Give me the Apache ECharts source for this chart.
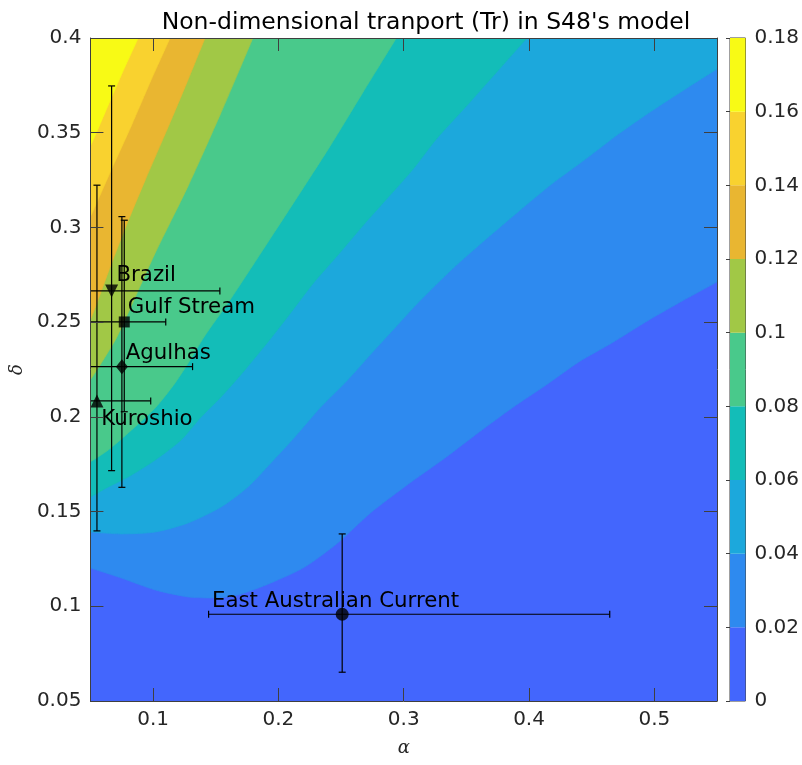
<!DOCTYPE html>
<html>
<head>
<meta charset="utf-8">
<script src="https://cdn.jsdelivr.net/npm/echarts@6/dist/echarts.min.js"></script>
<style>html,body{margin:0;padding:0;background:#fff}#c{width:802px;height:765px}</style>
</head>
<body>
<div id="c"></div>
<script>
// ---- data ----
const xTicks = [0.1, 0.2, 0.3, 0.4, 0.5];
const cbLevels = [0, 0.02, 0.04, 0.06, 0.08, 0.1, 0.12, 0.14, 0.16, 0.18];
const bandColors = ['#4366fd','#2e8aef','#1ca8dc','#13bdb8','#49c98b','#a1c846','#e9b631','#f9d22f','#f8fa15'];

// contour lines (alpha, delta), from left edge to right/top edge
const c00 = [[0.05,0.05],[0.55,0.05]];
const c02 = [[0.05,0.1202],[0.0747,0.1149],[0.1017,0.1086],[0.128,0.1049],[0.1463,0.1044],[0.1677,0.106],[0.194,0.1123],[0.221,0.1207],[0.2473,0.1334],[0.2735,0.1493],[0.3006,0.163],[0.334,0.1788],[0.3603,0.192],[0.3865,0.2047],[0.4136,0.2168],[0.4398,0.229],[0.4661,0.239],[0.4931,0.2501],[0.5194,0.2601],[0.55,0.2712]];
const c04 = [[0.05,0.1392],[0.0747,0.1382],[0.1017,0.1392],[0.128,0.144],[0.1542,0.1524],[0.1757,0.163],[0.194,0.1757],[0.2131,0.1894],[0.2338,0.2052],[0.2553,0.2195],[0.2767,0.2353],[0.2966,0.2496],[0.3125,0.261],[0.3388,0.2781],[0.3658,0.2939],[0.3921,0.3087],[0.4183,0.323],[0.4454,0.3362],[0.4716,0.3494],[0.4979,0.3615],[0.5249,0.3731],[0.55,0.3837]];
const c06 = [[0.05,0.1577],[0.0643,0.163],[0.0802,0.1683],[0.1017,0.1772],[0.1224,0.1878],[0.1383,0.1999],[0.1542,0.2105],[0.1733,0.2248],[0.1916,0.2395],[0.2091,0.2543],[0.2274,0.2702],[0.2489,0.2865],[0.2672,0.3008],[0.2807,0.3108],[0.307,0.3304],[0.3261,0.3467],[0.3523,0.3657],[0.3786,0.3853],[0.3984,0.4]];
const c08 = [[0.05,0.1762],[0.0643,0.1825],[0.0802,0.1915],[0.1017,0.2047],[0.1176,0.2179],[0.1296,0.23],[0.1407,0.2422],[0.1614,0.2617],[0.1876,0.2881],[0.2147,0.3156],[0.2409,0.3425],[0.2672,0.371],[0.2942,0.4]];
const c10 = [[0.05,0.2195],[0.0588,0.2285],[0.0699,0.2406],[0.0739,0.2459],[0.0802,0.2549],[0.1017,0.2865],[0.128,0.3219],[0.1542,0.3605],[0.1797,0.4]];
const c12 = [[0.05,0.2512],[0.054,0.258],[0.0643,0.2765],[0.0778,0.2997],[0.0938,0.3251],[0.1121,0.3531],[0.1272,0.3768],[0.1415,0.4]];
const c14 = [[0.05,0.3055],[0.054,0.3114],[0.0667,0.3304],[0.0826,0.3536],[0.0985,0.3779],[0.1136,0.4]];
const c16 = [[0.05,0.343],[0.054,0.3488],[0.0619,0.361],[0.0747,0.3805],[0.0882,0.4]];
const contours = [c00, c02, c04, c06, c08, c10, c12, c14, c16];

// currents
const names   = ['Brazil','Gulf Stream','Agulhas','Kuroshio','East Australian Current'];
const alpha   = [0.0669, 0.0770, 0.0751, 0.0552, 0.2509];
const delta   = [0.2665, 0.2501, 0.2265, 0.2084, 0.0958];
const alphaLo = [-0.0195, 0.0439, 0.0187, 0.0123, 0.1443];
const alphaHi = [0.1533, 0.1101, 0.1315, 0.0981, 0.4644];
const deltaLo = [0.1716, 0.2027, 0.1628, 0.1398, 0.0652];
const deltaHi = [0.3747, 0.3038, 0.3057, 0.3223, 0.1382];
const symbols = ['triangle','rect','diamond','triangle','circle'];
const symRot  = [180, 0, 0, 0, 0];
const labelAlpha = [0.0708, 0.0798, 0.0782, 0.0587, 0.147];
const labelDelta = [0.2749, 0.2575, 0.2337, 0.1984, 0.1028];

// ---- build ----
const xMin = 0.05, xMax = 0.55, yMin = 0.05, yMax = 0.4;
const axisCol = '#3f3f3f', txtCol = '#262626';
const FONT = 'DejaVu Sans';

const bandSeries = contours.map((c, i) => ({
  type: 'line', xAxisIndex: 0, yAxisIndex: 0, z: 1 + i * 0.01,
  data: c, smooth: 0.25,
  showSymbol: false, symbol: 'none', silent: true,
  lineStyle: {width: 0.6, color: bandColors[i]},
  areaStyle: {origin: 'end', color: bandColors[i], opacity: 1}
}));

const chart = echarts.init(document.getElementById('c'), null, {renderer: 'canvas'});
chart.setOption({
  animation: false,
  backgroundColor: '#fff',
  title: {
    text: "Non-dimensional tranport (Tr) in S48's model",
    left: 421, top: 6, textAlign: 'center',
    textStyle: {fontFamily: FONT, fontSize: 23.5, fontWeight: 'normal', color: '#000'}
  },
  grid: [
    {left: 90, right: 85, top: 38, bottom: 64, show: false},
    {left: 730, right: 55, top: 38, bottom: 64, show: true, borderColor: axisCol, borderWidth: 1}
  ],
  xAxis: [
    {gridIndex: 0, type: 'value', min: xMin, max: xMax, position: 'bottom',
     name: 'α', nameLocation: 'middle', nameGap: 38,
     nameTextStyle: {fontFamily: 'DejaVu Serif', fontStyle: 'italic', fontSize: 18, color: txtCol},
     axisLine: {show: true, onZero: false, lineStyle: {color: axisCol}},
     axisTick: {show: true, inside: true, length: 13, customValues: xTicks, lineStyle: {color: axisCol}},
     axisLabel: {customValues: xTicks, fontFamily: FONT, fontSize: 20, color: txtCol, margin: 9},
     splitLine: {show: false}, z: 10},
    {gridIndex: 0, type: 'value', min: xMin, max: xMax, position: 'top',
     axisLine: {show: true, onZero: false, lineStyle: {color: axisCol}},
     axisTick: {show: true, inside: true, length: 13, customValues: xTicks, lineStyle: {color: axisCol}},
     axisLabel: {show: false}, splitLine: {show: false}, z: 10},
    {gridIndex: 1, type: 'value', min: 0, max: 1, show: false}
  ],
  yAxis: [
    {gridIndex: 0, type: 'value', min: yMin, max: yMax, interval: 0.05, position: 'left',
     name: 'δ', nameLocation: 'middle', nameGap: 55, nameRotate: 90,
     nameTextStyle: {fontFamily: 'DejaVu Serif', fontStyle: 'italic', fontSize: 18, color: txtCol},
     axisLine: {show: true, onZero: false, lineStyle: {color: axisCol}},
     axisTick: {show: true, inside: true, length: 13, lineStyle: {color: axisCol}},
     axisLabel: {fontFamily: FONT, fontSize: 20, color: txtCol, margin: 9},
     splitLine: {show: false}, z: 10},
    {gridIndex: 0, type: 'value', min: yMin, max: yMax, interval: 0.05, position: 'right',
     axisLine: {show: true, onZero: false, lineStyle: {color: axisCol}},
     axisTick: {show: true, inside: true, length: 13, lineStyle: {color: axisCol}},
     axisLabel: {show: false}, splitLine: {show: false}, z: 10},
    {gridIndex: 1, type: 'value', min: 0, max: 0.18, interval: 0.02, position: 'right',
     axisLine: {show: false},
     axisTick: {show: true, inside: true, length: 4, lineStyle: {color: axisCol}},
     axisLabel: {fontFamily: FONT, fontSize: 20, color: txtCol, margin: 9},
     splitLine: {show: false}}
  ],
  series: bandSeries.concat([
    {
      type: 'custom', xAxisIndex: 2, yAxisIndex: 2, z: 1,
      data: cbLevels.slice(0, -1).map(v => [0, v]),
      renderItem: function (params, api) {
        const i = params.dataIndex;
        const p1 = api.coord([0, cbLevels[i]]);
        const p2 = api.coord([1, cbLevels[i + 1]]);
        return {type: 'rect', shape: {x: p1[0], y: p2[1], width: p2[0] - p1[0], height: p1[1] - p2[1]},
                style: {fill: bandColors[i]}};
      }
    },
    {
      type: 'custom', xAxisIndex: 0, yAxisIndex: 0, z: 5,
      data: names.map((n, i) => [alpha[i], delta[i]]),
      renderItem: function (params, api) {
        const i = params.dataIndex;
        const cap = 3.5;
        const st = {stroke: '#000', lineWidth: 1.2};
        const ch = [];
        const lo = Math.max(alphaLo[i], xMin), hi = Math.min(alphaHi[i], xMax);
        const a1 = api.coord([lo, delta[i]]), a2 = api.coord([hi, delta[i]]);
        ch.push({type: 'line', shape: {x1: a1[0], y1: a1[1], x2: a2[0], y2: a2[1]}, style: st});
        if (alphaLo[i] >= xMin) ch.push({type: 'line', shape: {x1: a1[0], y1: a1[1] - cap, x2: a1[0], y2: a1[1] + cap}, style: st});
        if (alphaHi[i] <= xMax) ch.push({type: 'line', shape: {x1: a2[0], y1: a2[1] - cap, x2: a2[0], y2: a2[1] + cap}, style: st});
        const dlo = Math.max(deltaLo[i], yMin), dhi = Math.min(deltaHi[i], yMax);
        const b1 = api.coord([alpha[i], dlo]), b2 = api.coord([alpha[i], dhi]);
        ch.push({type: 'line', shape: {x1: b1[0], y1: b1[1], x2: b2[0], y2: b2[1]}, style: st});
        if (deltaLo[i] >= yMin) ch.push({type: 'line', shape: {x1: b1[0] - cap, y1: b1[1], x2: b1[0] + cap, y2: b1[1]}, style: st});
        if (deltaHi[i] <= yMax) ch.push({type: 'line', shape: {x1: b2[0] - cap, y1: b2[1], x2: b2[0] + cap, y2: b2[1]}, style: st});
        return {type: 'group', children: ch};
      }
    },
    {
      type: 'scatter', xAxisIndex: 0, yAxisIndex: 0, z: 6,
      itemStyle: {color: '#000'},
      data: names.map((n, i) => ({
        value: [alpha[i], delta[i]], symbol: symbols[i], symbolRotate: symRot[i],
        symbolSize: symbols[i] === 'rect' ? 11 : (symbols[i] === 'diamond' ? [12, 15] : 13)
      }))
    },
    {
      type: 'custom', xAxisIndex: 0, yAxisIndex: 0, z: 7,
      data: names.map((n, i) => [labelAlpha[i], labelDelta[i]]),
      renderItem: function (params, api) {
        const i = params.dataIndex;
        const p = api.coord([labelAlpha[i], labelDelta[i]]);
        return {type: 'text', x: p[0], y: p[1],
                style: {text: names[i], fill: '#000', font: '21.3px "DejaVu Sans"', align: 'left', verticalAlign: 'middle'}};
      }
    }
  ])
});
</script>
</body>
</html>
